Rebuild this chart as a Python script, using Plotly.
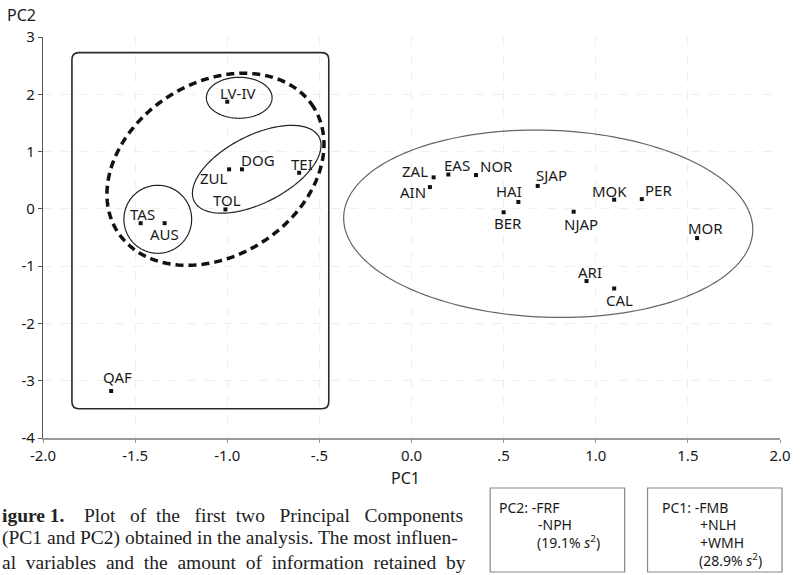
import numpy as np
import plotly.graph_objects as go

# ---------------- data ----------------
samples = ["LV-IV", "ZUL", "DOG", "TEI", "TOL", "TAS", "AUS", "QAF",
           "ZAL", "AIN", "EAS", "NOR", "SJAP", "HAI", "BER", "NJAP",
           "MOK", "PER", "MOR", "ARI", "CAL"]
pc1 = [-1.00, -0.99, -0.92, -0.61, -1.01, -1.47, -1.34, -1.63,
       0.12, 0.10, 0.20, 0.35, 0.685, 0.58, 0.50, 0.88,
       1.10, 1.25, 1.55, 0.95, 1.10]
pc2 = [1.87, 0.69, 0.69, 0.63, -0.01, -0.25, -0.25, -3.18,
       0.55, 0.38, 0.60, 0.59, 0.40, 0.12, -0.06, -0.05,
       0.16, 0.17, -0.51, -1.26, -1.39]

x_tick_vals = [-2.0, -1.5, -1.0, -0.5, 0.0, 0.5, 1.0, 1.5, 2.0]
x_tick_text = ["-2.0", "-1.5", "-1.0", "-.5", "0.0", ".5", "1.0", "1.5", "2.0"]
y_tick_vals = [-4, -3, -2, -1, 0, 1, 2, 3]
y_tick_text = ["-4", "-3", "-2", "-1", "0", "1", "2", "3"]

pc2_box_lines = ["PC2: -FRF", "-NPH", "(19.1% <i>s</i><sup>2</sup>)"]
pc1_box_lines = ["PC1: -FMB", "+NLH", "+WMH", "(28.9% <i>s</i><sup>2</sup>)"]
caption_lines = [
    "<b>igure 1.</b>    Plot   of  the   first  two   Principal   Components",
    "(PC1 and PC2) obtained in the analysis. The most influen-",
    "al  variables  and  the  amount  of  information  retained  by",
]

# ---------------- layout geometry ----------------
W, H = 803, 575
ML, MR, MT, MB = 43, 20, 37, 137
PW, PH = W - ML - MR, H - MT - MB
XR, YR = [-2, 2], [-4, 3]
SX = PW / (XR[1] - XR[0])
SY = PH / (YR[1] - YR[0])


def paper_x(px):
    return (px - ML) / PW


def paper_y(py):
    return (H - MB - py) / PH


# label offsets in pixels (dx right, dy down)
label_offsets = {
    "LV-IV": (10, -9), "ZUL": (-15, 9), "DOG": (16, -9), "TEI": (3, -9),
    "TOL": (2, -9), "TAS": (2, -9), "AUS": (0, 11), "QAF": (6, -14),
    "ZAL": (-19, -6), "AIN": (-17, 5), "EAS": (9, -9), "NOR": (21, -9),
    "SJAP": (14, -11), "HAI": (-9, -11), "BER": (4, 11), "NJAP": (7, 12),
    "MOK": (-5, -9), "PER": (17, -9), "MOR": (8, -10), "ARI": (3, -9),
    "CAL": (5, 12),
}

fig = go.Figure()
fig.add_trace(go.Scatter(
    x=pc1, y=pc2, mode="markers",
    marker=dict(symbol="square", size=4, color="#111"),
    hoverinfo="text", text=samples, showlegend=False,
))

lab_font = dict(family="Noto Sans, Open Sans, sans-serif", size=15, color="#1a1a1a")
annotations = []
for name, x, y in zip(samples, pc1, pc2):
    dx, dy = label_offsets[name]
    annotations.append(dict(x=x, y=y, xref="x", yref="y", text=name, showarrow=False,
                            xshift=dx, yshift=-dy, font=lab_font,
                            xanchor="center", yanchor="middle"))


def ellipse_path(cx, cy, a_px, b_px, ang_deg, n=160):
    t = np.linspace(0, 2 * np.pi, n, endpoint=False)
    th = np.deg2rad(ang_deg)
    ex = a_px * np.cos(t) * np.cos(th) - b_px * np.sin(t) * np.sin(th)
    ey = a_px * np.cos(t) * np.sin(th) + b_px * np.sin(t) * np.cos(th)
    xs = cx + ex / SX
    ys = cy + ey / SY
    pts = [f"{xx:.4f},{yy:.4f}" for xx, yy in zip(xs, ys)]
    return "M " + " L ".join(pts) + " Z"


def rounded_rect(x0, x1, y0, y1, r_px):
    rx, ry = r_px / SX, r_px / SY
    return (f"M {x0+rx},{y1} L {x1-rx},{y1} Q {x1},{y1} {x1},{y1-ry} "
            f"L {x1},{y0+ry} Q {x1},{y0} {x1-rx},{y0} L {x0+rx},{y0} "
            f"Q {x0},{y0} {x0},{y0+ry} L {x0},{y1-ry} Q {x0},{y1} {x0+rx},{y1} Z")


shapes = [
    dict(type="path", xref="x", yref="y", path=rounded_rect(-1.843, -0.449, -3.49, 2.728, 7),
         line=dict(color="#2a2a2a", width=1.6)),
    dict(type="path", xref="x", yref="y", path=ellipse_path(-1.064, 0.691, 116.5, 86.7, 32),
         line=dict(color="#111", width=3.5, dash="8px,5px")),
    dict(type="path", xref="x", yref="y", path=ellipse_path(-0.935, 1.939, 33, 20.5, 0),
         line=dict(color="#222", width=1.2)),
    dict(type="path", xref="x", yref="y", path=ellipse_path(-0.840, 0.691, 70.4, 33.8, 27),
         line=dict(color="#222", width=1.2)),
    dict(type="path", xref="x", yref="y", path=ellipse_path(-1.377, -0.182, 34, 34, 0),
         line=dict(color="#222", width=1.2)),
    dict(type="path", xref="x", yref="y", path=ellipse_path(0.742, -0.26, 205.5, 93.5, -2),
         line=dict(color="#666", width=1.2)),
    # info boxes
    dict(type="rect", xref="paper", yref="paper",
         x0=paper_x(492), x1=paper_x(627), y0=paper_y(572), y1=paper_y(488),
         line=dict(color="#888", width=1.2)),
    dict(type="rect", xref="paper", yref="paper",
         x0=paper_x(650), x1=paper_x(785), y0=paper_y(572), y1=paper_y(488),
         line=dict(color="#888", width=1.2)),
]

box_font = dict(family="Noto Sans, Open Sans, sans-serif", size=14, color="#1a1a1a")
for txt, px, py in zip(pc2_box_lines, [499, 538, 537], [507, 524, 542]):
    annotations.append(dict(x=paper_x(px), y=paper_y(py), xref="paper", yref="paper",
                            text=txt, showarrow=False, xanchor="left", yanchor="middle",
                            font=box_font))
for txt, px, py in zip(pc1_box_lines, [663, 701, 701, 700], [507, 524, 542, 560]):
    annotations.append(dict(x=paper_x(px), y=paper_y(py), xref="paper", yref="paper",
                            text=txt, showarrow=False, xanchor="left", yanchor="middle",
                            font=box_font))

cap_font = dict(family="Liberation Serif, Times New Roman, serif", size=19.5, color="#222")
for txt, py in zip(caption_lines, [515, 538, 562]):
    annotations.append(dict(x=paper_x(0), y=paper_y(py), xref="paper", yref="paper",
                            text=txt, showarrow=False, xanchor="left", yanchor="middle",
                            font=cap_font))

title_font = dict(family="Noto Sans, Open Sans, sans-serif", size=16, color="#1a1a1a")
annotations.append(dict(x=paper_x(21), y=paper_y(15), xref="paper", yref="paper", text="PC2",
                        showarrow=False, xanchor="center", yanchor="middle", font=title_font))
annotations.append(dict(x=paper_x(407), y=paper_y(478), xref="paper", yref="paper", text="PC1",
                        showarrow=False, xanchor="center", yanchor="middle", font=title_font))

tick_font = dict(family="Noto Sans, Open Sans, sans-serif", size=15, color="#1a1a1a")
fig.update_layout(
    width=W, height=H, autosize=False,
    margin=dict(l=ML, r=MR, t=MT, b=MB, pad=0),
    paper_bgcolor="white", plot_bgcolor="white",
    shapes=shapes, annotations=annotations,
    xaxis=dict(range=XR, tickvals=x_tick_vals, ticktext=x_tick_text, tickfont=tick_font,
               showline=True, linecolor="#9a9a9a", linewidth=1.5,
               ticks="outside", ticklen=3, tickcolor="#9a9a9a",
               showgrid=True, gridcolor="#efefef", griddash="dash", zeroline=False,
               fixedrange=True),
    yaxis=dict(range=YR, tickvals=y_tick_vals, ticktext=y_tick_text, tickfont=tick_font,
               showline=True, linecolor="#555", linewidth=1.2,
               ticks="outside", ticklen=4, tickcolor="#555",
               showgrid=True, gridcolor="#efefef", griddash="dash", zeroline=False,
               fixedrange=True),
    showlegend=False,
)

fig.write_html(
    "out.html",
    config={"displayModeBar": False},
    post_script="document.body.style.margin='0';document.body.style.overflow='hidden';",
)
